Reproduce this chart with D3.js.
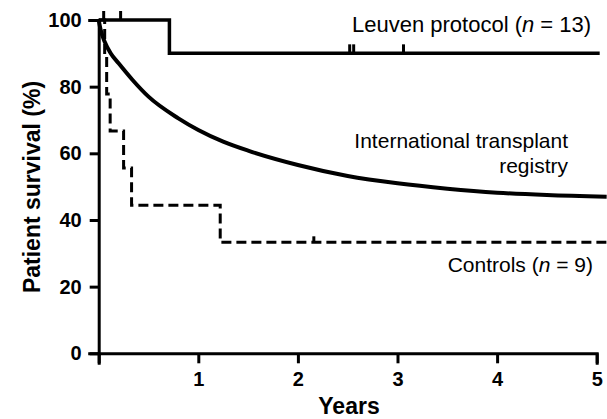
<!DOCTYPE html>
<html lang="en">
<head>
<meta charset="UTF-8">
<title>Patient survival</title>
<script src="https://d3js.org/d3.v7.min.js"></script>
<style>
  body { margin: 0; background: #fff; }
  text { font-family: "Liberation Sans", Arial, sans-serif; fill: #000; }
</style>
</head>
<body>
<svg id="chart" width="607" height="419"></svg>
<script>
// axis ticks
const yearTicks = [0, 1, 2, 3, 4, 5];
const survivalTicks = [0, 20, 40, 60, 80, 100];

// Leuven protocol (n = 13), Kaplan-Meier steps
const leuvenTime = [0, 0.71, 5.03];
const leuvenSurvival = [100, 90, 90];
const leuvenCensorTime = [0.05, 0.22, 2.52, 2.56, 3.06];
const leuvenCensorSurvival = [100, 100, 90, 90, 90];

// Controls (n = 9)
const controlTime = [0, 0.06, 0.08, 0.115, 0.25, 0.33, 1.22, 5.1];
const controlSurvival = [100, 88.9, 77.8, 66.7, 55.6, 44.4, 33.3, 33.3];
const controlCensorTime = [2.16];
const controlCensorSurvival = [33.3];

// International transplant registry (smooth curve)
const registryTime = [0, 0.02, 0.06, 0.12, 0.2, 0.34, 0.5, 0.8, 1, 1.25, 1.5, 2, 2.5, 3, 3.5, 4, 4.5, 5.1];
const registrySurvival = [100, 97, 93.5, 90, 87, 82, 77, 70.5, 67, 63.5, 60.8, 56.5, 53.2, 51, 49.4, 48.2, 47.5, 47];

const svg = d3.select("#chart");

const x = d3.scaleLinear().domain([0, 5]).range([98.7, 596.7]);
const y = d3.scaleLinear().domain([0, 100]).range([353.3, 20]);

// axes
const xAxis = svg.append("g")
    .attr("transform", `translate(0,${y(0)})`)
    .call(d3.axisBottom(x).tickValues(yearTicks).tickSizeOuter(0).tickSize(10).tickPadding(9)
        .tickFormat(d => d === 0 ? "" : d));
const yAxis = svg.append("g")
    .attr("transform", `translate(${x(0)},0)`)
    .call(d3.axisLeft(y).tickValues(survivalTicks).tickSizeOuter(0).tickSize(9).tickPadding(8));

[xAxis, yAxis].forEach(g => {
    g.select(".domain").attr("stroke", "#000").attr("stroke-width", 3).attr("stroke-linecap", "square");
    g.selectAll(".tick line").attr("stroke", "#000").attr("stroke-width", 3);
    g.selectAll(".tick text")
        .style("font-family", '"Liberation Sans", Arial, sans-serif')
        .style("font-size", "20px").style("font-weight", "bold").attr("fill", "#000");
});

// axis titles
svg.append("text")
    .attr("x", 349).attr("y", 414)
    .attr("text-anchor", "middle")
    .style("font-size", "23px").style("font-weight", "bold")
    .text("Years");
svg.append("text")
    .attr("transform", "translate(40,187) rotate(-90)")
    .attr("text-anchor", "middle")
    .style("font-size", "23px").style("font-weight", "bold")
    .text("Patient survival (%)");

// curves
const stepLine = d3.line().x(d => x(d[0])).y(d => y(d[1])).curve(d3.curveStepAfter);
const smoothLine = d3.line().x(d => x(d[0])).y(d => y(d[1])).curve(d3.curveMonotoneX);

svg.append("path")
    .datum(d3.zip(registryTime, registrySurvival))
    .attr("d", smoothLine)
    .attr("fill", "none").attr("stroke", "#000").attr("stroke-width", 4);

svg.append("path")
    .datum(d3.zip(controlTime, controlSurvival))
    .attr("d", stepLine)
    .attr("fill", "none").attr("stroke", "#000").attr("stroke-width", 3)
    .attr("stroke-dasharray", "10,5");

svg.append("path")
    .datum(d3.zip(leuvenTime, leuvenSurvival))
    .attr("d", stepLine)
    .attr("fill", "none").attr("stroke", "#000").attr("stroke-width", 3.5);

// censor marks
function censor(times, survs, len) {
    svg.append("g").selectAll("line")
        .data(d3.zip(times, survs))
        .join("line")
        .attr("x1", d => x(d[0])).attr("x2", d => x(d[0]))
        .attr("y1", d => y(d[1])).attr("y2", d => y(d[1]) - len)
        .attr("stroke", "#000").attr("stroke-width", 3);
}
censor(leuvenCensorTime, leuvenCensorSurvival, 9);
censor(controlCensorTime, controlCensorSurvival, 6);

// labels
const leuvenLabel = svg.append("text").attr("x", 352).attr("y", 32).style("font-size", "22px");
leuvenLabel.append("tspan").text("Leuven protocol (");
leuvenLabel.append("tspan").style("font-style", "italic").text("n");
leuvenLabel.append("tspan").text(" = 13)");

svg.append("text").attr("x", 568).attr("y", 148).attr("text-anchor", "end")
    .style("font-size", "21px").text("International transplant");
svg.append("text").attr("x", 568).attr("y", 173).attr("text-anchor", "end")
    .style("font-size", "21px").text("registry");

const controlLabel = svg.append("text").attr("x", 593).attr("y", 272).attr("text-anchor", "end")
    .style("font-size", "21px");
controlLabel.append("tspan").text("Controls (");
controlLabel.append("tspan").style("font-style", "italic").text("n");
controlLabel.append("tspan").text(" = 9)");
</script>
</body>
</html>
